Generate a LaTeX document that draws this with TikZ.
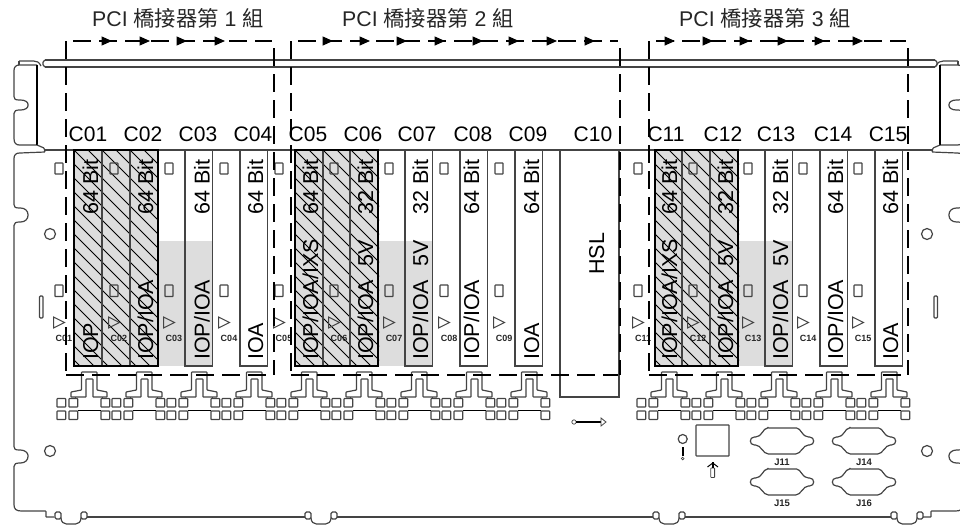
\documentclass[tikz,border=0pt]{standalone}
\usepackage{fontspec}
\setmainfont{Liberation Sans}
\newfontfamily\cjk{Noto Sans CJK TC}
\usetikzlibrary{arrows.meta}

\definecolor{edgegray}{HTML}{444444}
\definecolor{cardgray}{HTML}{DDDDDD}

\tikzset{
	panel/.style={draw=edgegray,line width=1.2pt,rounded corners=0.6pt},
	cardline/.style={draw=edgegray,line width=1.2pt},
	groupbox/.style={line width=1.6pt,dash pattern=on 18pt off 8pt},
	flowtip/.style={-{Triangle[length=10.5pt,width=9pt]},line width=1.4pt},
	slotlabel/.style={font=\fontsize{21}{24}\selectfont},
	cardlabel/.style={font=\fontsize{21.5}{24}\selectfont,rotate=90,anchor=base west,inner sep=0pt},
	tinylabel/.style={font=\fontsize{9}{10}\selectfont\bfseries,text=black!85,inner sep=0pt},
	titlelabel/.style={font=\fontsize{21.3}{24}\selectfont,text=black!85},
}

\newcommand{\panelside}{
	\draw[panel] (19,61) -- (33,61) .. controls (37,61) and (39,62) .. (41,66);
	\draw[panel] (19,61) -- (19,65);
	\draw[panel] (37,65) -- (20,65) .. controls (16,65) and (14,67) .. (14,71) -- (14,96) .. controls (14,99) and (15,100) .. (20,100) .. controls (25,100) and (28,102) .. (28,105) .. controls (28,108) and (25,110) .. (20,110) .. controls (16,110) and (14,111) .. (14,114) -- (14,138) .. controls (14,143) and (16,145) .. (20,145) -- (37,145);
	\draw[line width=1.1pt] (37,65) -- (37,145);
	\draw[panel] (37,145) -- (44,148) -- (45,152) -- (20,153) .. controls (16,153) and (14,155) .. (14,159) -- (14,204) .. controls (14,207) and (15,208) .. (20,208) .. controls (25,208) and (28,211) .. (28,215) .. controls (28,219) and (25,222) .. (20,222) .. controls (16,222) and (14,223) .. (14,226) -- (14,446) .. controls (14,449) and (15,450) .. (20,450) .. controls (25,450) and (28,453) .. (28,456) .. controls (28,460) and (25,463) .. (20,463) .. controls (16,463) and (14,464) .. (14,467) -- (14,504) .. controls (14,509) and (16,511) .. (22,511) -- (46,511) -- (46,517) -- (54,517);
	\draw[panel] (50,234) circle[radius=5.5];
	\draw[panel] (50,451) circle[radius=5.5];
	\draw[panel,rounded corners=1pt] (39.5,296) rectangle (43,318);
}

\begin{document}
\begin{tikzpicture}[x=1pt,y=-1pt]
	\useasboundingbox (0,0) rectangle (960,525);
	\clip (0,0) rectangle (960,525);

	% shaded parts of the slots
	\fill[cardgray] (74,150) rectangle (158,366);
	\fill[cardgray] (295,150) rectangle (378,366);
	\fill[cardgray] (655,150) rectangle (738,366);
	\fill[cardgray] (158,241) rectangle (213,366);
	\fill[cardgray] (378,241) rectangle (433,366);
	\fill[cardgray] (738,241) rectangle (793,366);

	% hatching
	\foreach \xa in {74,295,655} {
		\begin{scope}
			\clip (\xa,150) rectangle (\xa+84,366);
			\foreach \xb in {-15,...,22} {
				\draw[line width=0.8pt] (\xa+14*\xb,150) -- ++(216,216);
			}
		\end{scope}
	}

	% chassis
	\panelside
	\begin{scope}[shift={(977,0)},xscale=-1]
		\panelside
	\end{scope}
	\draw[panel] (45,60) -- (935,60);
	\draw[panel] (45,67) -- (935,67);
	\draw[panel] (45,60) -- (43,62) -- (43,65) -- (45,67);
	\draw[panel] (935,60) -- (937,62) -- (937,65) -- (935,67);
	\draw[panel] (45,150) -- (932,150);

	% bottom edge with its bumps
	\foreach \xa in {58,308,656,894} {
		\draw[panel] (\xa+3,518) .. controls (\xa+3,522) and (\xa+6,524) .. (\xa+9,524) -- (\xa+17,524) .. controls (\xa+20,524) and (\xa+23,522) .. (\xa+23,518);
		\draw[panel,rounded corners=1.5pt] (\xa-3,512) rectangle (\xa+3,519);
		\draw[panel,rounded corners=1.5pt] (\xa+23,512) rectangle (\xa+29,519);
	}
	\draw[panel] (87,517) -- (305,517);
	\draw[panel] (337,517) -- (653,517);
	\draw[panel] (685,517) -- (891,517);

	% cards
	\foreach \xa in {185,240,405,460,515,765,820,875} {
		\draw[cardline] (\xa,150) rectangle (\xa+27.7,366);
	}
	\foreach \xa in {102,130,323,350,682,710} {
		\draw[cardline] (\xa,150) -- (\xa,366);
	}
	\draw[line width=2.4pt] (74,150) rectangle (158,366);
	\draw[line width=2.4pt] (295,150) rectangle (378,366);
	\draw[line width=2.4pt] (655,150) rectangle (738,366);
	\draw[cardline] (560,150) -- (560,397) -- (619,397) -- (619,150);

	% latches and slot marks
	\foreach \xa/\name in {59/C01,114/C02,169/C03,224/C04,279/C05,334/C06,389/C07,444/C08,499/C09,638/C11,693/C12,748/C13,803/C14,858/C15} {
		\draw[panel] (\xa-4,163) rectangle (\xa+4,174);
		\draw[panel] (\xa-4,285) rectangle (\xa+4,296.5);
		\draw[panel,line width=1pt,rounded corners=0pt] (\xa-5.5,317) -- (\xa+5.5,322.5) -- (\xa-5.5,328) -- cycle;
		\node[tinylabel] (mark\name) at (\xa+5,338) {\name};
	}

	% connectors
	\foreach \xa in {57,112,167,222,277,332,387,442,497,637,692,747,802,857} {
		\draw[panel] (\xa+14,397) -- (\xa+14,392) -- (\xa+24.5,390) -- (\xa+24.5,372) -- (\xa+40,372) -- (\xa+40,390) -- (\xa+50,392) -- (\xa+50,397) -- (\xa+36,397) -- (\xa+36,379) -- (\xa+29,379) -- (\xa+29,397) -- cycle;
		\foreach \xb in {0,12,44} {
			\draw[panel] (\xa+\xb,398.5) rectangle (\xa+\xb+8.7,407);
			\draw[panel] (\xa+\xb,411) rectangle (\xa+\xb+8.7,419.5);
		}
		\draw[line width=1.5pt] (\xa+20.7,410.7) -- (\xa+44,410.7);
		\draw[panel] (\xa+18.7,397) -- (\xa+18.7,399);
		\draw[panel] (\xa+45.3,397) -- (\xa+45.3,399);
	}

	% card texts
	\foreach \xa/\txt in {98/64 Bit,153/64 Bit,209.5/64 Bit,263/64 Bit,318/64 Bit,373/32 Bit,428/32 Bit,479/64 Bit,539/64 Bit,677/64 Bit,733/32 Bit,788/32 Bit,843/64 Bit,898/64 Bit} {
		\node[cardlabel] at (\xa,215) {\txt};
	}
	\foreach \xa/\txt in {98/{IOP},153/{IOP/IOA},209.5/{IOP/IOA},263/{IOA},318/{IOP/IOA/IXS},373/{IOP/IOA},428/{IOP/IOA},479/{IOP/IOA},539/{IOA},677/{IOP/IOA/IXS},733/{IOP/IOA},788/{IOP/IOA},843/{IOP/IOA},898/{IOA}} {
		\node[cardlabel] at (\xa,360) {\txt};
	}
	\foreach \xa in {373,428,733,788} {
		\node[cardlabel] at (\xa,267) {5V};
	}
	\node[cardlabel] (HSL) at (604,275) {HSL};

	% slot numbers
	\foreach \xa/\name in {88/C01,143/C02,198/C03,253/C04,308/C05,363/C06,417/C07,473/C08,528/C09,593/C10,666/C11,723/C12,776/C13,833/C14,888/C15} {
		\node[slotlabel,inner sep=0pt] (\name) at (\xa,134) {\name};
	}

	% bridge groups
	\node[titlelabel] (group1) at (178,18) {PCI {\cjk 橋接器第} 1 {\cjk 組}};
	\node[titlelabel] (group2) at (428,18) {PCI {\cjk 橋接器第} 2 {\cjk 組}};
	\node[titlelabel] (group3) at (765,18) {PCI {\cjk 橋接器第} 3 {\cjk 組}};

	\foreach \xa/\xb in {66/274,291/620,649/908} {
		\draw[groupbox] (\xa+7,41) -- (\xb-2,41);
		\draw[groupbox] (\xa,41) -- (\xa,371);
		\draw[groupbox] (\xb,48) -- (\xb,375);
		\draw[groupbox] (\xa,375) -- (\xb-2,375);
	}
	\foreach \xa in {107,145,182,220,328,365,402,440,478,514,552,590,670,708,745,783,820,858} {
		\draw[flowtip] (\xa-2,41) -- (\xa+5,41);
	}

	% lower right parts
	\draw[panel] (696,425) rectangle (729,456);
	\draw[panel] (682.7,439) circle[radius=4.5];
	\draw[line width=1.8pt] (682.7,447) -- (682.7,456);
	\draw[panel,line width=0.7pt] (682.7,458.5) circle[radius=1.3];
	\draw[panel,line width=0.8pt] (710.8,468) rectangle (714.6,477.5);
	\draw[line width=1pt] (707.5,467) -- (712.7,463) -- (718,467);
	\draw[line width=1.6pt] (712.7,462) -- (712.7,468);
	\draw[panel,line width=0.7pt] (574,422) circle[radius=2.2];
	\draw[line width=2.4pt] (576,422) -- (601,422);
	\draw[panel,line width=0.8pt,rounded corners=0pt] (601,418) -- (606,422) -- (601,426) -- cycle;

	\foreach \xa/\ya/\name in {782/441/J11,864/441/J14,782/482/J15,864/482/J16} {
		\draw[panel] (\xa-14,\ya-13) -- (\xa+14,\ya-13) .. controls (\xa+19,\ya-13) and (\xa+20,\ya-4) .. (\xa+27,\ya-4) .. controls (\xa+33,\ya-4) and (\xa+33,\ya+4) .. (\xa+27,\ya+4) .. controls (\xa+21,\ya+4) and (\xa+19,\ya+13) .. (\xa+13,\ya+13) -- (\xa-13,\ya+13) .. controls (\xa-19,\ya+13) and (\xa-21,\ya+4) .. (\xa-27,\ya+4) .. controls (\xa-33,\ya+4) and (\xa-33,\ya-4) .. (\xa-27,\ya-4) .. controls (\xa-20,\ya-4) and (\xa-19,\ya-13) .. (\xa-14,\ya-13) -- cycle;
		\node[tinylabel,font=\fontsize{9.5}{10}\selectfont\bfseries] (\name) at (\xa,\ya+21) {\name};
	}
\end{tikzpicture}
\end{document}
